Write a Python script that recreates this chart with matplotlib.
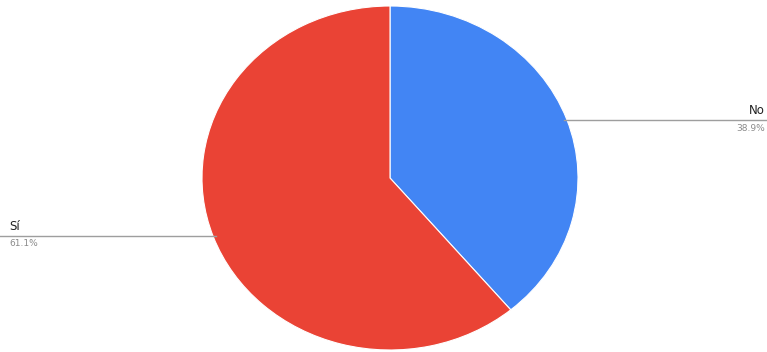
import numpy as np
import matplotlib
matplotlib.use("Agg")
import matplotlib.pyplot as plt
from matplotlib.lines import Line2D

labels = ["No", "Sí"]
values = [38.9, 61.1]
colors = ["#4285F4", "#EA4335"]

W, H = 767, 352
fig = plt.figure(figsize=(W / 100, H / 100), dpi=100)

# pie box in pixel terms: centre (390, 178), rx 188, ry 172
cx, cy, rx, ry = 390, 178, 188, 172
ax = fig.add_axes([(cx - rx) / W, (H - cy - ry) / H, 2 * rx / W, 2 * ry / H])

wedges, _ = ax.pie(values, colors=colors, startangle=90, counterclock=False,
                   radius=1, wedgeprops=dict(edgecolor="white", linewidth=0.8))
ax.set_xlim(-1, 1)
ax.set_ylim(-1, 1)
ax.set_aspect("auto")
ax.axis("off")

to_fig = ax.transData + fig.transFigure.inverted()
for w, lab, val in zip(wedges, labels, values):
    mid = np.deg2rad((w.theta1 + w.theta2) / 2)
    x0, y0 = to_fig.transform((np.cos(mid) * 0.985, np.sin(mid) * 0.985))
    right = np.cos(mid) > 0
    xe = 1.0 if right else 0.0
    fig.add_artist(Line2D([x0, xe], [y0, y0], color="#9e9e9e", lw=1.0,
                          transform=fig.transFigure))
    xt = 0.997 if right else 0.012
    ha = "right" if right else "left"
    fig.text(xt, y0 + 0.008, lab, ha=ha, va="bottom", fontsize=8.5, color="#222222")
    fig.text(xt, y0 - 0.010, f"{val:.1f}%", ha=ha, va="top", fontsize=6.5, color="#8a8a8a")

fig.savefig("out.png", dpi=100)
